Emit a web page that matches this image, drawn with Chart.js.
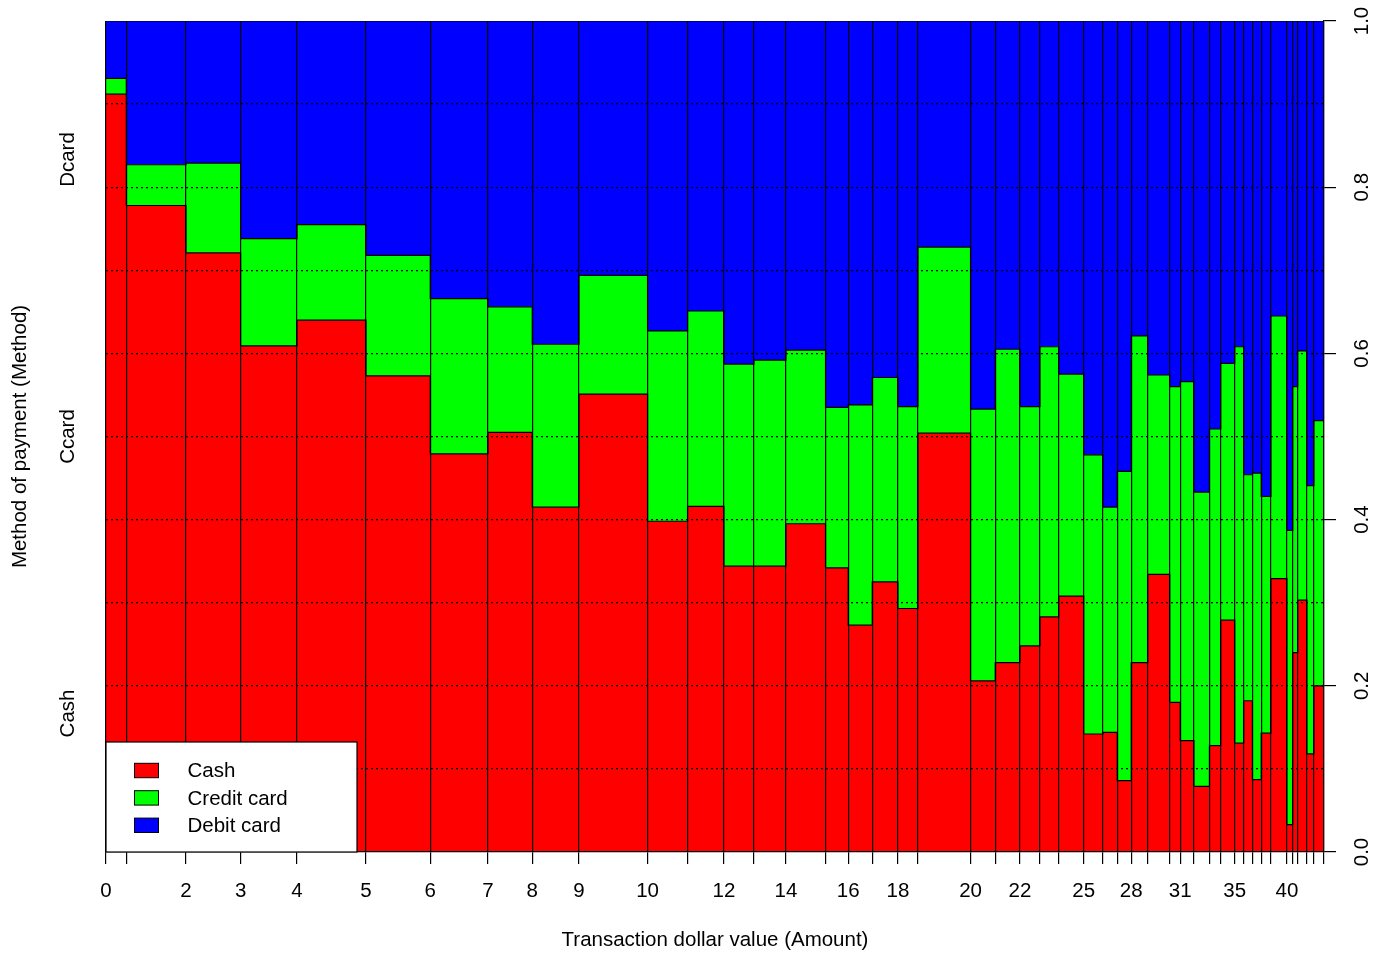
<!DOCTYPE html>
<html>
<head>
<meta charset="utf-8">
<title>Spinogram - metodo de pago</title>
<script src="https://cdn.jsdelivr.net/npm/chart.js@4.4.1/dist/chart.umd.min.js"></script>
<style>
  html, body { margin: 0; padding: 0; background: #fff; }
  #wrap { width: 1385px; height: 955px; }
</style>
</head>
<body>
<div id="wrap"><canvas id="myChart"></canvas></div>
<script>
// Cortes de los intervalos del monto ($)
const amountBreaks = [0, 1, 2, 3, 4, 5, 6, 7, 8, 9, 10, 11, 12, 13, 14, 15, 16, 17, 18, 19, 20,
    21, 22, 23, 24, 25, 26, 27, 28, 29, 30, 31, 32, 33, 34, 35, 36, 37, 38, 39, 40, 41, 42, 43, 44, 45];

// Montos que se imprimen bajo el eje (los demas se solapan)
const shownLabels = [0, 2, 3, 4, 5, 6, 7, 8, 9, 10, 12, 14, 16, 18, 20, 22, 25, 28, 31, 35, 40];

// Cantidad relativa de transacciones por intervalo (ancho de cada barra)
const binCounts = [20.3, 59.7, 54.6, 56.4, 69.0, 64.3, 57.7, 44.3, 46.7, 68.6,
    40.0, 36.4, 30.0, 32.0, 39.6, 22.7, 24.0, 25.7, 20.0, 52.6,
    24.7, 24.7, 20.0, 18.8, 25.0, 19.2, 14.3, 14.0, 16.5, 22.0,
    10.5, 13.7, 15.5, 11.3, 14.0, 9.0, 8.7, 8.8, 9.7, 16.0,
    5.8, 5.0, 9.2, 7.0, 10.1];

// Proporcion en efectivo por intervalo
const cashShare = [0.912, 0.778, 0.721, 0.609, 0.640, 0.573, 0.479, 0.505, 0.415, 0.551,
    0.398, 0.416, 0.344, 0.344, 0.395, 0.342, 0.273, 0.325, 0.293, 0.504,
    0.206, 0.228, 0.248, 0.283, 0.308, 0.142, 0.144, 0.086, 0.228, 0.334,
    0.180, 0.134, 0.079, 0.128, 0.279, 0.131, 0.182, 0.087, 0.143, 0.329,
    0.033, 0.240, 0.303, 0.118, 0.200];

// Proporcion con tarjeta de credito por intervalo (el resto es debito)
const creditShare = [0.019, 0.049, 0.108, 0.129, 0.115, 0.145, 0.187, 0.151, 0.196, 0.143,
    0.229, 0.235, 0.243, 0.248, 0.209, 0.193, 0.265, 0.246, 0.243, 0.224,
    0.327, 0.377, 0.288, 0.325, 0.267, 0.336, 0.271, 0.372, 0.393, 0.240,
    0.380, 0.432, 0.354, 0.381, 0.309, 0.477, 0.272, 0.369, 0.285, 0.316,
    0.354, 0.320, 0.300, 0.323, 0.319];

const methodLevels = ['Cash', 'Ccard', 'Dcard'];
const legendLabels = ['Cash', 'Credit card', 'Debit card'];
const fillColors = ['#ff0000', '#00ff00', '#0000ff'];

// Bordes acumulados de cada barra en el eje x
const xEdges = [0];
binCounts.forEach(n => xEdges.push(xEdges[xEdges.length - 1] + n));
const total = xEdges[xEdges.length - 1];

// Tope acumulado de cada capa
const cashTop = cashShare.slice();
const creditTop = cashShare.map((c, i) => c + creditShare[i]);
const debitTop = cashShare.map(() => 1);

// Convierte los topes en una linea escalonada (izquierda y derecha de cada barra)
function layerPoints(tops) {
    const pts = [];
    tops.forEach((v, i) => {
        pts.push({ x: xEdges[i], y: v });
        pts.push({ x: xEdges[i + 1], y: v });
    });
    return pts;
}

const FONT = { family: "'Liberation Sans', Arial, sans-serif", size: 20.5 };

Chart.defaults.font.family = FONT.family;
Chart.defaults.font.size = FONT.size;
Chart.defaults.color = '#000';

// Leyenda dentro del grafico, con recuadro (estilo R)
const boxLegend = {
    id: 'boxLegend',
    afterDraw(chart) {
        const ctx = chart.ctx;
        const area = chart.chartArea;
        const w = 251, h = 110;
        const x0 = area.left, y0 = area.bottom - h;
        ctx.save();
        ctx.fillStyle = '#fff';
        ctx.fillRect(x0, y0, w, h);
        ctx.strokeStyle = '#000';
        ctx.lineWidth = 1.2;
        ctx.strokeRect(x0, y0, w, h);
        ctx.font = FONT.size + 'px ' + FONT.family;
        ctx.textBaseline = 'middle';
        ctx.textAlign = 'left';
        legendLabels.forEach((lab, i) => {
            const cy = y0 + 28.5 + i * 27.4;
            ctx.fillStyle = fillColors[i];
            ctx.fillRect(x0 + 28.5, cy - 7.2, 24, 14.4);
            ctx.lineWidth = 1;
            ctx.strokeRect(x0 + 28.5, cy - 7.2, 24, 14.4);
            ctx.fillStyle = '#000';
            ctx.fillText(lab, x0 + 81.5, cy + 1);
        });
        ctx.restore();
    }
};

const ctx = document.getElementById('myChart').getContext('2d');

window.myChart = new Chart(ctx, {
    type: 'line',
    data: {
        datasets: [
            { label: legendLabels[0], data: layerPoints(cashTop), backgroundColor: fillColors[0], fill: 'origin' },
            { label: legendLabels[1], data: layerPoints(creditTop), backgroundColor: fillColors[1], fill: '-1' },
            { label: legendLabels[2], data: layerPoints(debitTop), backgroundColor: fillColors[2], fill: '-1' }
        ]
    },
    options: {
        responsive: true,
        maintainAspectRatio: false,
        animation: false,
        layout: { padding: { top: 21, left: 0, right: 0, bottom: 0 } },
        elements: {
            line: { borderColor: '#000', borderWidth: 1.2, tension: 0 },
            point: { radius: 0, hoverRadius: 0 }
        },
        plugins: {
            legend: { display: false },
            tooltip: { enabled: false }
        },
        scales: {
            x: {
                type: 'linear',
                min: 0,
                max: total,
                afterBuildTicks: s => { s.ticks = xEdges.map(v => ({ value: v })); },
                afterFit: s => { s.height = 103; s.paddingLeft = 0; s.paddingRight = 0; },
                ticks: {
                    autoSkip: false,
                    maxRotation: 0,
                    padding: 14.7,
                    font: FONT,
                    callback: (v, i) => shownLabels.includes(amountBreaks[i]) ? String(amountBreaks[i]) : ''
                },
                // lineas verticales entre barras, dibujadas encima del relleno
                grid: { z: 1, color: '#000', lineWidth: 1.2, tickLength: 12, tickColor: '#000' },
                border: { z: 1, display: true, color: '#000', width: 1.2 },
                title: {
                    display: true,
                    text: 'Transaction dollar value (Amount)',
                    font: FONT,
                    padding: { top: 0, bottom: 2.7 }
                }
            },
            y: {
                type: 'linear',
                position: 'right',
                min: 0,
                max: 1,
                afterFit: s => { s.width = 61; s.paddingTop = 0; s.paddingBottom = 0; },
                ticks: {
                    stepSize: 0.1,
                    minRotation: 90,
                    maxRotation: 90,
                    crossAlign: 'center',
                    padding: 11.7,
                    font: FONT,
                    callback: v => (Math.round(v * 10) % 2 === 0) ? v.toFixed(1) : ''
                },
                // rejilla punteada cada 0.1, encima de las barras
                grid: {
                    z: 2,
                    lineWidth: 1.2,
                    tickLength: 12,
                    color: c => (c.tick && c.tick.value > 0.001 && c.tick.value < 0.999) ? '#000' : 'rgba(0,0,0,0)',
                    tickColor: c => (c.tick && Math.round(c.tick.value * 10) % 2 === 0) ? '#000' : 'rgba(0,0,0,0)',
                    tickBorderDash: []
                },
                border: { z: 2, display: true, color: '#000', width: 1.2, dash: [2, 3] }
            },
            yLeft: {
                type: 'linear',
                position: 'left',
                min: 0,
                max: 1,
                afterBuildTicks: s => {
                    s.ticks = methodLevels.map((m, i) => ({ value: (i + 0.5) / methodLevels.length }));
                },
                afterFit: s => { s.width = 106; s.paddingTop = 0; s.paddingBottom = 0; },
                ticks: {
                    autoSkip: false,
                    minRotation: 90,
                    maxRotation: 90,
                    crossAlign: 'center',
                    padding: 10.6,
                    font: FONT,
                    callback: (v, i) => methodLevels[i]
                },
                grid: { display: false, drawTicks: false },
                border: { display: false },
                title: {
                    display: true,
                    text: 'Method of payment (Method)',
                    font: FONT,
                    padding: { top: 7.7, bottom: 0 }
                }
            }
        }
    },
    plugins: [boxLegend]
});
</script>
</body>
</html>
